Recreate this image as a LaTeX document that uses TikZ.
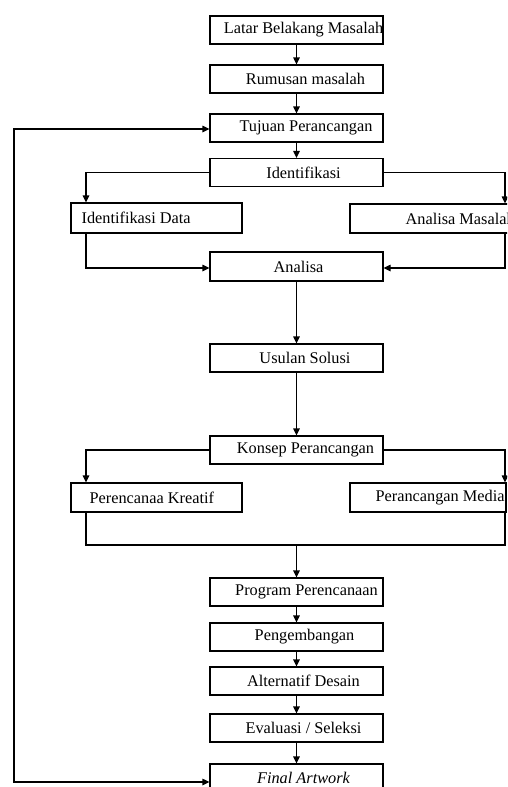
\documentclass[tikz,border=0pt]{standalone}
\usepackage{fontspec}
\setmainfont{Liberation Serif}
\usetikzlibrary{arrows.meta}
\begin{document}
\begin{tikzpicture}[x=1pt,y=-1pt,
  box/.style={draw,line width=1.2pt,minimum height=28pt,inner sep=0pt},
  wide/.style={box,minimum width=173pt},
  txt/.style={inner sep=0pt,font=\fontsize{16.3}{18}\selectfont},
  arr/.style={line width=1.2pt,-{Triangle[length=7pt,width=6.5pt]}},
  biarr/.style={line width=1.2pt,{Triangle[length=7pt,width=6.5pt]}-{Triangle[length=7pt,width=6.5pt]}},
  ln/.style={line width=1.2pt}]
\useasboundingbox (0,0) rectangle (507,787);
\clip (0,0) rectangle (507,787);

\coordinate (L) at (86,0);
\coordinate (R) at (505,0);
\coordinate (FB) at (14,0);
\coordinate (join) at (296.5,545);

% main column boxes
\node[wide] (latar) at (296.5,30) {};
\node[txt] (latarT) at ([xshift=7pt]latar.center) {Latar Belakang Masalah};
\node[wide] (rumusan) at (296.5,79) {};
\node[txt] (rumusanT) at ([xshift=9pt]rumusan.center) {Rumusan masalah};
\node[wide] (tujuan) at (296.5,128) {};
\node[txt] (tujuanT) at ([xshift=9.5pt]tujuan.center) {Tujuan Perancangan};
\node[wide] (ident) at (296.5,172.5) {};
\node[txt] (identT) at ([xshift=7pt]ident.center) {Identifikasi};

\node[box,minimum width=171pt,minimum height=30pt] (iddata) at (156.5,218) {};
\node[txt,anchor=west] (iddataT) at ([xshift=11pt]iddata.west) {Identifikasi Data};
\node[box,minimum width=172pt,minimum height=29pt] (anm) at (436,218.5) {};
\node[txt,anchor=west] (anmT) at ([xshift=56pt]anm.west) {Analisa Masalah};

\node[wide,minimum height=29pt] (analisa) at (296.5,266.5) {};
\node[txt] (analisaT) at ([xshift=2pt]analisa.center) {Analisa};
\node[wide] (usulan) at (296.5,358) {};
\node[txt] (usulanT) at ([xshift=8.5pt]usulan.center) {Usulan Solusi};
\node[wide] (konsep) at (296.5,450) {};
\node[txt] (konsepT) at ([xshift=9pt]konsep.center) {Konsep Perancangan};

\node[box,minimum width=171pt,minimum height=29pt] (kreatif) at (156.5,497.5) {};
\node[txt,anchor=west] (kreatifT) at ([xshift=19pt]kreatif.west) {Perencanaa Kreatif};
\node[box,minimum width=156pt,minimum height=29pt] (media) at (428,497.5) {};
\node[txt,anchor=west] (mediaT) at ([xshift=26pt]media.west) {Perancangan Media};

\node[wide] (program) at (296.5,592) {};
\node[txt] (programT) at ([xshift=10pt]program.center) {Program Perencanaan};
\node[wide] (peng) at (296.5,637) {};
\node[txt] (pengT) at ([xshift=8pt]peng.center) {Pengembangan};
\node[wide] (alt) at (296.5,681) {};
\node[txt] (altT) at ([xshift=7pt]alt.center) {Alternatif Desain};
\node[wide] (eval) at (296.5,728) {};
\node[txt] (evalT) at ([xshift=7pt]eval.center) {Evaluasi / Seleksi};
\node[wide] (final) at (296.5,778) {};
\node[txt] (finalT) at ([xshift=7pt]final.center) {\itshape Final Artwork};

% connectors
\draw[arr] (latar) -- (rumusan);
\draw[arr] (rumusan) -- (tujuan);
\draw[arr] (tujuan) -- (ident);
\draw[arr] (ident.west) -| (L |- iddata.north);
\draw[arr] (ident.east) -| (R |- anm.north);
\draw[arr] (L |- iddata.south) |- ([yshift=-1.5pt]analisa.west);
\draw[arr] (R |- anm.south) |- ([yshift=-1.5pt]analisa.east);
\draw[arr] (analisa) -- (usulan);
\draw[arr] (usulan) -- (konsep);
\draw[arr] (konsep.west) -| (L |- kreatif.north);
\draw[arr] (konsep.east) -| (R |- media.north);
\draw[ln] (L |- kreatif.south) |- (R |- join) -- (R |- media.south);
\draw[arr] (join) -- (program);
\draw[arr] (program) -- (peng);
\draw[arr] (peng) -- (alt);
\draw[arr] (alt) -- (eval);
\draw[arr] (eval) -- (final);
\coordinate (fin) at ([yshift=-4pt]final.west);
\coordinate (tin) at ([yshift=-1pt]tujuan.west);
\draw[biarr] (tin) -- (FB |- tin) -- (FB |- fin) -- (fin);
\end{tikzpicture}
\end{document}
